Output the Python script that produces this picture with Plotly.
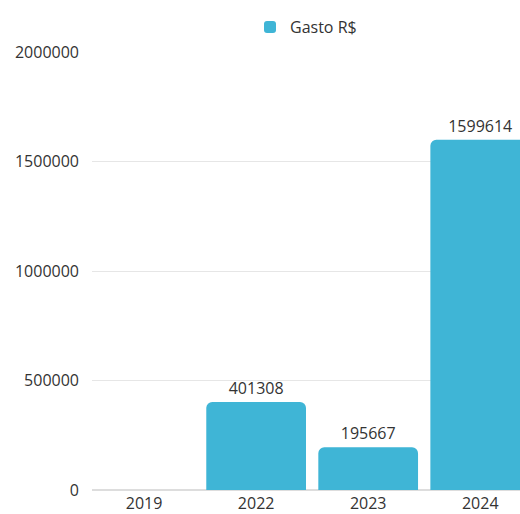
import plotly.graph_objects as go

years = ["2019", "2022", "2023", "2024"]
gasto = [None, 401308, 195667, 1599614]
labels = ["", "401308", "195667", "1599614"]
y_ticks = [0, 500000, 1000000, 1500000, 2000000]

fig = go.Figure()
fig.add_trace(go.Bar(
    x=years, y=gasto, name="Gasto R$",
    text=labels, textposition="outside", cliponaxis=False,
    textfont=dict(size=16, color="#333333"),
    marker=dict(color="#3fb5d6", cornerradius=6, line=dict(width=0)),
    width=0.89,
))
fig.update_layout(
    width=520, height=514,
    margin=dict(l=92, r=0, t=52, b=24),
    paper_bgcolor="white", plot_bgcolor="white",
    font=dict(family="Open Sans, Lato, sans-serif", size=16, color="#333333"),
    showlegend=True,
    legend=dict(orientation="h", x=0.5, xanchor="center", y=1.057, yanchor="middle",
                font=dict(size=16, color="#333333"), itemwidth=30),
    xaxis=dict(type="category", range=[-0.465, 3.355], showgrid=False, showline=False,
               ticks="", automargin=False, tickfont=dict(size=16), ticklabelstandoff=2),
    yaxis=dict(range=[0, 2000000], tickvals=y_ticks, ticktext=[str(v) for v in y_ticks],
               showgrid=True, gridcolor="#e6e6e6", zeroline=True, zerolinecolor="#dddddd",
               automargin=False, ticklabelstandoff=12, tickfont=dict(size=16)),
)
fig.write_html(
    "out.html",
    config={"displayModeBar": False},
    post_script="document.body.style.margin='0';document.body.style.overflow='hidden';",
)
